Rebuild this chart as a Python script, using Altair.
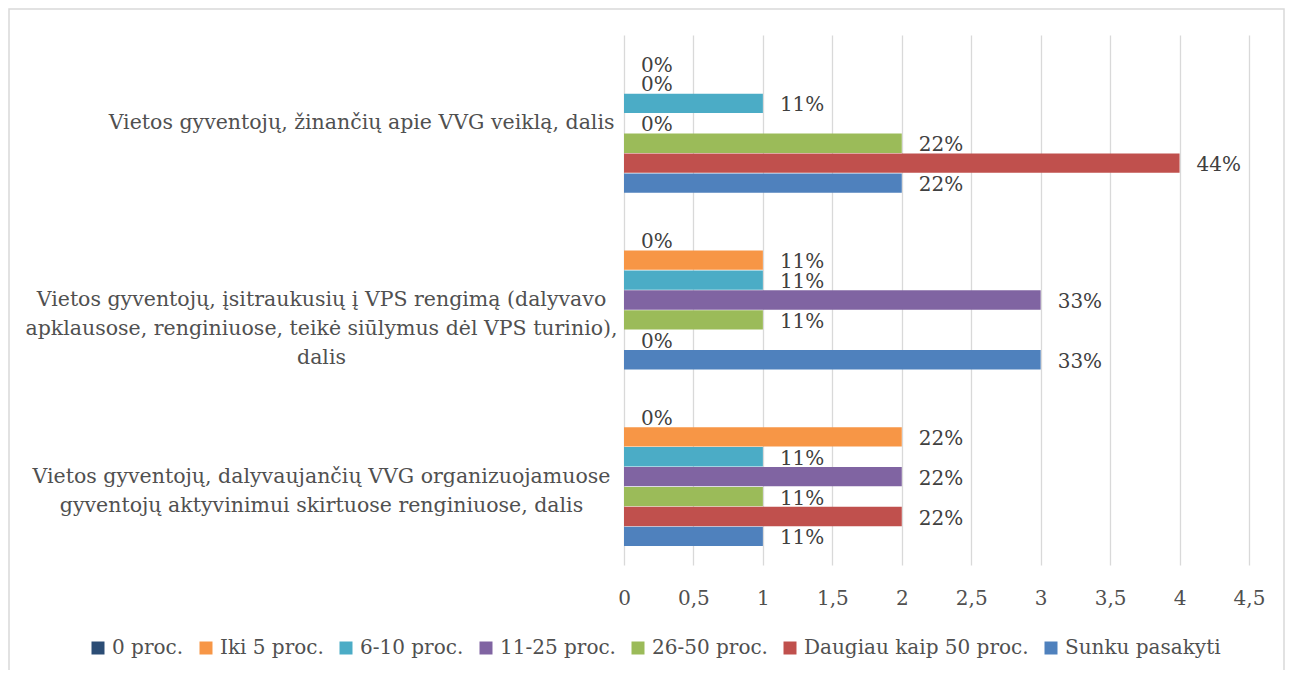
import altair as alt
import pandas as pd

categories = [
    "Vietos gyventojų, žinančių apie VVG veiklą, dalis",
    "Vietos gyventojų, įsitraukusių į VPS rengimą (dalyvavo\napklausose, renginiuose, teikė siūlymus dėl VPS turinio),\ndalis",
    "Vietos gyventojų, dalyvaujančių VVG organizuojamuose\ngyventojų aktyvinimui skirtuose renginiuose, dalis",
]
series = ["0 proc.", "Iki 5 proc.", "6-10 proc.", "11-25 proc.", "26-50 proc.",
          "Daugiau kaip 50 proc.", "Sunku pasakyti"]
colors = ["#2C4D75", "#F79646", "#4BACC6", "#8064A2", "#9BBB59", "#C0504D", "#4F81BD"]

# values per series, in category order
v_0 = [0, 0, 0]
v_iki5 = [0, 1, 2]
v_6_10 = [1, 1, 1]
v_11_25 = [0, 3, 2]
v_26_50 = [2, 1, 1]
v_daugiau50 = [4, 0, 2]
v_sunku = [2, 3, 1]

p_0 = ["0%", "0%", "0%"]
p_iki5 = ["0%", "11%", "22%"]
p_6_10 = ["11%", "11%", "11%"]
p_11_25 = ["0%", "33%", "22%"]
p_26_50 = ["22%", "11%", "11%"]
p_daugiau50 = ["44%", "0%", "22%"]
p_sunku = ["22%", "33%", "11%"]

x_ticks = [0, 0.5, 1, 1.5, 2, 2.5, 3, 3.5, 4, 4.5]

values = [v_0, v_iki5, v_6_10, v_11_25, v_26_50, v_daugiau50, v_sunku]
pcts = [p_0, p_iki5, p_6_10, p_11_25, p_26_50, p_daugiau50, p_sunku]

rows = []
for s, vals, ps in zip(series, values, pcts):
    for c, v, p in zip(categories, vals, ps):
        rows.append({"category": c, "series": s, "value": v, "label": p})
df = pd.DataFrame(rows)

FONT = "DejaVu Serif"
TXT = "#505050"

base = alt.Chart(df).encode(
    x=alt.X(
        "value:Q",
        scale=alt.Scale(domain=[0, 4.5], nice=False, zero=True),
        axis=alt.Axis(
            values=x_ticks,
            title=None,
            domain=False,
            ticks=False,
            grid=True,
            gridColor="#D9D9D9",
            gridWidth=1.3,
            labelFlush=False,
            labelExpr="replace(format(datum.value, ''), '.', ',')",
            labelFont=FONT,
            labelFontSize=20,
            labelColor=TXT,
            labelPadding=23,
        ),
    ),
    y=alt.Y(
        "category:N",
        sort=categories,
        scale=alt.Scale(paddingInner=0, paddingOuter=0),
        axis=alt.Axis(
            title=None,
            domain=False,
            ticks=False,
            grid=False,
            labelExpr="split(datum.label, '\\n')",
            labelAlign={"condition": {"test": "indexof(datum.value, '\\n') < 0", "value": "right"},
                        "value": "center"},
            labelPadding={"condition": {"test": "indexof(datum.value, '\\n') < 0", "value": 10},
                          "value": 303},
            labelBaseline="middle",
            labelLineHeight=29,
            labelLimit=700,
            labelFont=FONT,
            labelFontSize=20.5,
            labelColor=TXT,
        ),
    ),
    yOffset=alt.YOffset(
        "series:N",
        sort=series,
        scale=alt.Scale(paddingInner=0.03, paddingOuter=0.95),
    ),
)

bars = base.mark_bar().encode(
    color=alt.Color(
        "series:N",
        sort=series,
        scale=alt.Scale(domain=series, range=colors),
        legend=alt.Legend(
            title=None,
            orient="none",
            direction="horizontal",
            columns=7,
            legendX=-536,
            legendY=603,
            padding=0,
            symbolType="square",
            symbolSize=169,
            symbolStrokeWidth=0,
            labelFont=FONT,
            labelFontSize=20,
            labelColor=TXT,
            labelLimit=400,
            labelOffset=4,
            columnPadding=12,
        ),
    )
)

labels = base.mark_text(
    align="left", baseline="middle", dx=17, dy=2,
    font=FONT, fontSize=20, color="#404040",
).encode(text="label:N")

border = alt.Chart(alt.Data(values=[{"a": 1}])).mark_rect(
    fillOpacity=0, stroke="#D9D9D9", strokeWidth=1.5
).encode(
    x=alt.value(-615), x2=alt.value(660), y=alt.value(-26), y2=alt.value(700)
)

chart = alt.layer(border, bars, labels).properties(
    width=625,
    height=530,
    autosize="none",
    padding={"left": 616, "top": 27, "right": 36, "bottom": 105},
).configure_view(stroke=None)

chart.save("out.html", embed_options={"renderer": "svg", "actions": False})
